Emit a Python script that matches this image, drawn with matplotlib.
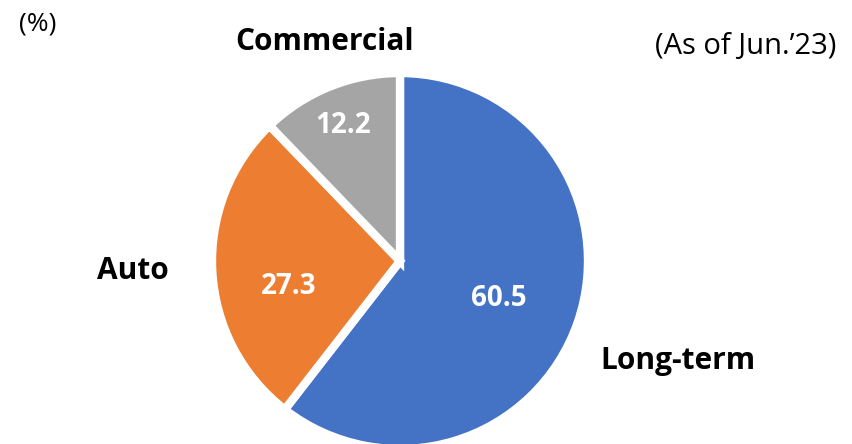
import numpy as np
import matplotlib.pyplot as plt

plt.rcParams['font.family'] = ['Open Sans', 'DejaVu Sans']

# share by line of business, %
categories = ["Long-term", "Auto", "Commercial"]
shares = [60.5, 27.3, 12.2]
colors = ["#4472C4", "#ED7D31", "#A5A5A5"]

fig = plt.figure(figsize=(8.53, 4.44), dpi=100)
ax = fig.add_axes([0, 0, 1, 1])

cx, cy, r = 400, 183, 188
wedges, _ = ax.pie(shares, colors=colors, startangle=90, counterclock=False,
                   center=(cx, cy), radius=r, frame=True,
                   wedgeprops=dict(edgecolor="white", linewidth=6))
ax.set_xlim(0, 853)
ax.set_ylim(0, 444)
ax.set_aspect("equal")
ax.axis("off")

# label distances (fraction of radius) and small angle nudges
val_dist = [0.56, 0.61, 0.78]
cat_dist = [1.57, 1.42, 1.23]
val_nudge = [-2, 10, 1]
cat_nudge = [-1, -1, -3]
for w, cat, v, vd, cd, vn, cn in zip(wedges, categories, shares, val_dist,
                                     cat_dist, val_nudge, cat_nudge):
    mid = (w.theta1 + w.theta2) / 2
    a = np.deg2rad(mid + vn)
    ax.text(cx + vd * r * np.cos(a), cy + vd * r * np.sin(a), f"{v:.1f}",
            color="white", fontsize=20, fontweight="bold",
            ha="center", va="center")
    a = np.deg2rad(mid + cn)
    ax.text(cx + cd * r * np.cos(a), cy + cd * r * np.sin(a), cat,
            color="black", fontsize=21.5, fontweight="bold",
            ha="center", va="center")

fig.text(19 / 853, 1 - 24 / 444, "(%)", fontsize=19, ha="left", va="center")
fig.text(836 / 853, 1 - 46 / 444, "(As of Jun.\u201923)", fontsize=21,
         ha="right", va="center")

fig.savefig("out.png", dpi=100)
